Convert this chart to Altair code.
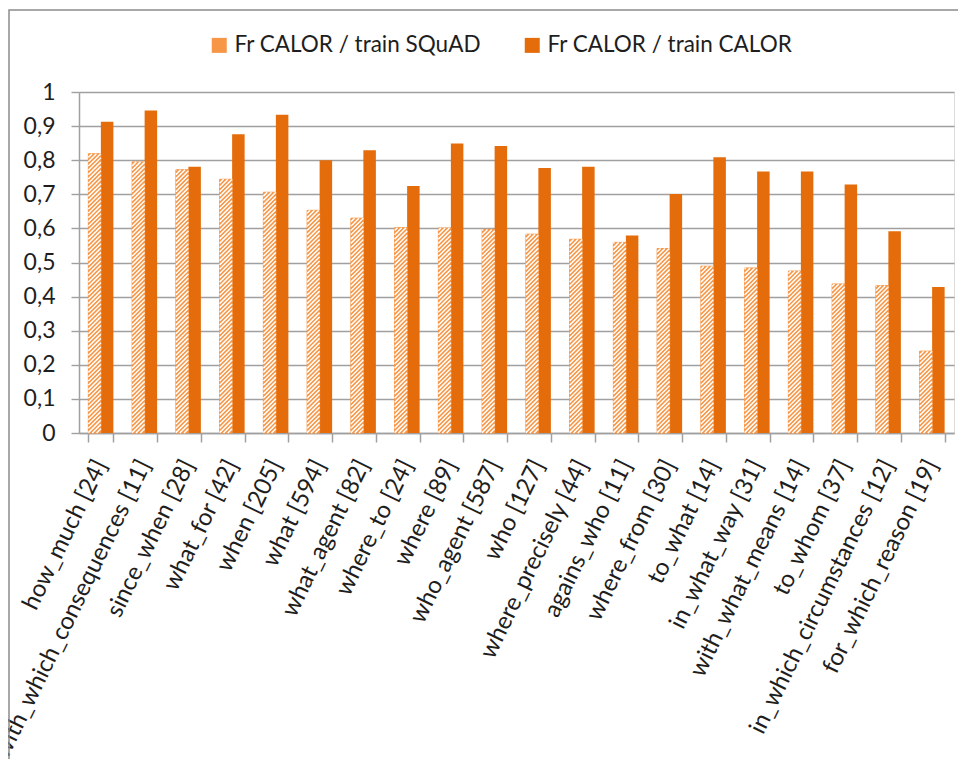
import altair as alt
import pandas as pd

categories = [
    "how_much [24]", "with_which_consequences [11]", "since_when [28]", "what_for [42]",
    "when [205]", "what [594]", "what_agent [82]", "where_to [24]", "where [89]",
    "who_agent [587]", "who [127]", "where_precisely [44]", "agains_who [11]",
    "where_from [30]", "to_what [14]", "in_what_way [31]", "with_what_means [14]",
    "to_whom [37]", "in_which_circumstances [12]", "for_which_reason [19]",
]
squad = [0.819, 0.795, 0.772, 0.744, 0.706, 0.653, 0.630, 0.602, 0.601, 0.597,
         0.583, 0.568, 0.559, 0.541, 0.489, 0.484, 0.475, 0.437, 0.432, 0.240]
calor = [0.913, 0.946, 0.781, 0.876, 0.933, 0.800, 0.829, 0.724, 0.849, 0.842,
         0.777, 0.781, 0.579, 0.701, 0.809, 0.767, 0.767, 0.729, 0.592, 0.428]
series_names = ["Fr CALOR / train SQuAD", "Fr CALOR / train CALOR"]
y_ticks = [0, 0.1, 0.2, 0.3, 0.4, 0.5, 0.6, 0.7, 0.8, 0.9, 1]

rows = []
for i, c in enumerate(categories):
    rows.append({"category": c, "idx": i, "series": series_names[0], "value": squad[i]})
    rows.append({"category": c, "idx": i, "series": series_names[1], "value": calor[i]})
df = pd.DataFrame(rows)

W, H = 875, 341
N = len(categories)
P_INNER = 0.4286
P_OUTER = P_INNER / 2
BAR_FRAC = (1 - P_INNER) / 2          # fraction of a category taken by one bar
bar_px = BAR_FRAC * W / N             # bar width in pixels
rise = bar_px / H                     # 45 degree stripe rise in data units
period = 4.3 / H                      # vertical stripe period in data units

FONT = "Lato"
TXT = "#1e1e1e"
GRID = "#a0a0a0"

y_scale = alt.Scale(domain=[0, 1], nice=False)
y_axis = alt.Axis(title=None, values=y_ticks,
                  labelExpr="replace(format(datum.value, '.1~f'), '.', ',')",
                  tickSize=8, labelPadding=16, labelFontSize=23, labelFont=FONT,
                  labelColor=TXT, domainColor=GRID, tickColor=GRID, gridColor=GRID,
                  gridWidth=1.4, domainWidth=1.5, tickWidth=1.4, grid=True)

x_enc = alt.X(
    "category:N", sort=categories,
    scale=alt.Scale(paddingInner=P_INNER, paddingOuter=P_OUTER),
    axis=alt.Axis(title=None, labelAngle=-64, labelAlign="right", labelBaseline="middle",
                  tickBand="extent", tickSize=9, labelPadding=19, labelFontSize=24,
                  labelFont=FONT, labelColor=TXT, domainColor=GRID, tickColor=GRID,
                  domainWidth=1.5, tickWidth=1.5, grid=False, labelLimit=400),
)
xoff = alt.XOffset("series:N", sort=series_names,
                   scale=alt.Scale(domain=series_names, paddingInner=0, paddingOuter=0))

base = alt.Chart(df)

bars = base.mark_bar().encode(
    x=x_enc, xOffset=xoff,
    y=alt.Y("value:Q", scale=y_scale, axis=y_axis),
    color=alt.Color("series:N", sort=series_names,
                    scale=alt.Scale(domain=series_names, range=["#F79646", "#E46C0A"]),
                    legend=alt.Legend(title=None, orient="none", direction="horizontal",
                                      legendX=129, legendY=-58, symbolType="square",
                                      symbolSize=225, labelFontSize=22.5, labelFont=FONT,
                                      labelColor=TXT, labelOffset=4, columnPadding=40,
                                      padding=0, symbolStrokeWidth=0, labelLimit=400)),
)

hatch = base.transform_filter(
    alt.datum.series == series_names[0]
).transform_calculate(
    xl=f"datum.idx + {P_OUTER}",
    xr=f"datum.idx + 0.5",
    ks="sequence(0, 80)",
).transform_flatten(["ks"]).transform_calculate(
    yb=f"datum.ks * {period} - {rise}",
).transform_calculate(
    t0=f"max(0, -datum.yb / {rise})",
    t1=f"min(1, (datum.value - datum.yb) / {rise})",
).transform_filter("datum.t1 > datum.t0 + 0.001").transform_calculate(
    hx=f"datum.xl + datum.t0 * (datum.xr - datum.xl)",
    hy=f"datum.yb + datum.t0 * {rise}",
    hx2=f"datum.xl + datum.t1 * (datum.xr - datum.xl)",
    hy2=f"datum.yb + datum.t1 * {rise}",
).mark_rule(color="white", strokeWidth=1.5).encode(
    x=alt.X("hx:Q", scale=alt.Scale(domain=[0, N], nice=False, zero=False), axis=None),
    x2="hx2:Q",
    y=alt.Y("hy:Q", scale=y_scale, axis=y_axis),
    y2="hy2:Q",
)

outline = base.transform_filter(
    alt.datum.series == series_names[0]
).mark_bar(fillOpacity=0, stroke="#F79646", strokeWidth=1).encode(
    x=alt.X("category:N", sort=categories,
            scale=alt.Scale(paddingInner=P_INNER, paddingOuter=P_OUTER), axis=None),
    xOffset=xoff,
    y=alt.Y("value:Q", scale=y_scale, axis=y_axis),
)

frame = alt.Chart(pd.DataFrame({"a": [0]})).mark_rect(
    fill="transparent", stroke="#8c8c8c", strokeWidth=1.5
).encode(
    x=alt.value(-70), x2=alt.value(W + 40), y=alt.value(-82), y2=alt.value(H + 600),
)

chart = alt.layer(frame, bars, outline, hatch).resolve_scale(
    x="independent"
).properties(
    width=W, height=H,
    autosize=alt.AutoSizeParams(type="none"),
    padding={"left": 71, "top": 84, "right": 4, "bottom": 326},
).configure_view(stroke=None).configure(background="white")

chart.save("out.html", embed_options={"renderer": "svg", "actions": False})
